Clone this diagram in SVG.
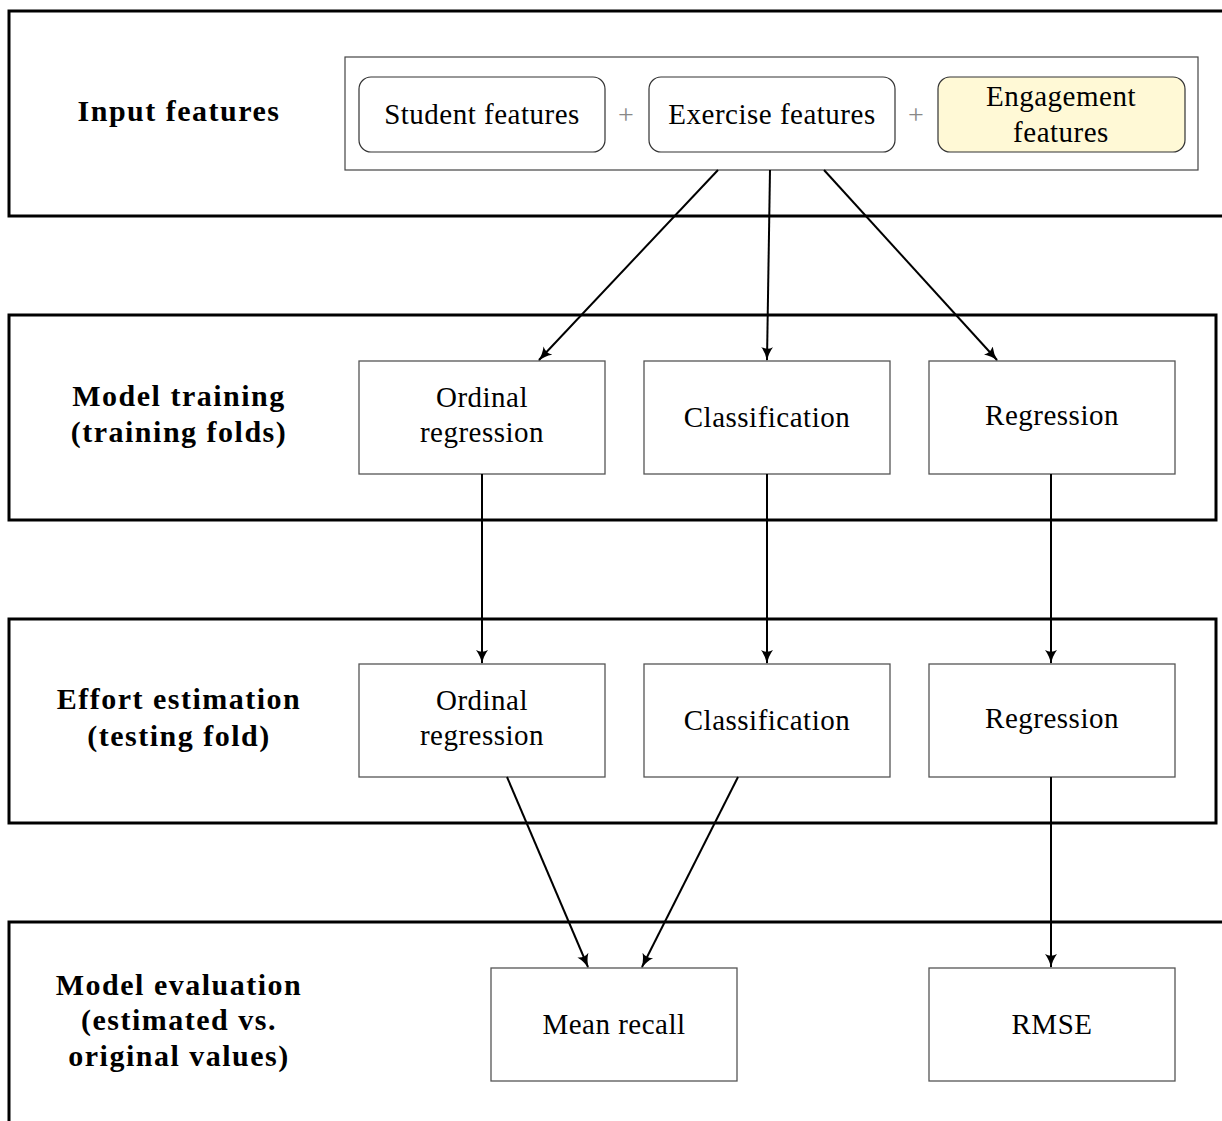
<svg xmlns="http://www.w3.org/2000/svg" width="1222" height="1121" viewBox="0 0 1222 1121">
<defs>
<style>
.stage{fill:none;stroke:#000;stroke-width:3}
.node{fill:#fff;stroke:#555;stroke-width:1.3}
.feat{fill:#fff;stroke:#333;stroke-width:1.2}
.eng{fill:#FFF9D6;stroke:#333;stroke-width:1.2}
.cont{fill:#fff;stroke:#444;stroke-width:1.2}
.t{font-size:29px;letter-spacing:0.5px;fill:#000;text-anchor:middle}
.b{font-size:30px;letter-spacing:1.5px;font-weight:bold;fill:#000;text-anchor:middle}
.plus{font-size:28px;fill:#888;text-anchor:middle}
.e{fill:none;stroke:#000;stroke-width:2;marker-end:url(#ah)}
</style>
<marker id="ah" viewBox="0 0 14 12" refX="13" refY="6" markerWidth="14" markerHeight="12" markerUnits="userSpaceOnUse" orient="auto">
<path d="M0,0 Q6,4.5 14,6 Q6,7.5 0,12 Q3.5,6 0,0 Z" fill="#000"/>
</marker>
</defs>
<g font-family="Liberation Serif, serif">
<g id="stage-input">
<rect class="stage" x="9" y="11" width="1230" height="205"/>
<text class="b" x="179" y="121">Input features</text>
</g>
<g id="stage-training">
<rect class="stage" x="9" y="315" width="1207" height="205"/>
<text class="b" x="179" y="406">Model training</text>
<text class="b" x="179" y="442">(training folds)</text>
</g>
<g id="stage-estimation">
<rect class="stage" x="9" y="619" width="1207" height="204"/>
<text class="b" x="179" y="709">Effort estimation</text>
<text class="b" x="179" y="746">(testing fold)</text>
</g>
<g id="stage-evaluation">
<rect class="stage" x="9" y="922" width="1230" height="220"/>
<text class="b" x="179" y="995">Model evaluation</text>
<text class="b" x="179" y="1030">(estimated vs.</text>
<text class="b" x="179" y="1066">original values)</text>
</g>
<g id="features">
<rect class="cont" x="345" y="57" width="853" height="113"/>
<g id="student-features">
<rect class="feat" x="359" y="77" width="246" height="75" rx="12"/>
<text class="t" x="482" y="124">Student features</text>
</g>
<text class="plus" x="626" y="124">+</text>
<g id="exercise-features">
<rect class="feat" x="649" y="77" width="246" height="75" rx="12"/>
<text class="t" x="772" y="124">Exercise features</text>
</g>
<text class="plus" x="916" y="124">+</text>
<g id="engagement-features">
<rect class="eng" x="938" y="77" width="247" height="75" rx="12"/>
<text class="t" x="1061" y="106">Engagement</text>
<text class="t" x="1061" y="142">features</text>
</g>
</g>
<g id="train-ordinal">
<rect class="node" x="359" y="361" width="246" height="113"/>
<text class="t" x="482" y="407">Ordinal</text>
<text class="t" x="482" y="442">regression</text>
</g>
<g id="train-classification">
<rect class="node" x="644" y="361" width="246" height="113"/>
<text class="t" x="767" y="427">Classification</text>
</g>
<g id="train-regression">
<rect class="node" x="929" y="361" width="246" height="113"/>
<text class="t" x="1052" y="425">Regression</text>
</g>
<g id="est-ordinal">
<rect class="node" x="359" y="664" width="246" height="113"/>
<text class="t" x="482" y="710">Ordinal</text>
<text class="t" x="482" y="745">regression</text>
</g>
<g id="est-classification">
<rect class="node" x="644" y="664" width="246" height="113"/>
<text class="t" x="767" y="730">Classification</text>
</g>
<g id="est-regression">
<rect class="node" x="929" y="664" width="246" height="113"/>
<text class="t" x="1052" y="728">Regression</text>
</g>
<g id="mean-recall">
<rect class="node" x="491" y="968" width="246" height="113"/>
<text class="t" x="614" y="1034">Mean recall</text>
</g>
<g id="rmse">
<rect class="node" x="929" y="968" width="246" height="113"/>
<text class="t" x="1052" y="1034">RMSE</text>
</g>
</g>
<g id="connectors">
<line class="e" x1="718" y1="170" x2="539" y2="360"/>
<line class="e" x1="770" y1="170" x2="767" y2="360"/>
<line class="e" x1="824" y1="170" x2="997" y2="360"/>
<line class="e" x1="482" y1="474" x2="482" y2="663"/>
<line class="e" x1="767" y1="474" x2="767" y2="663"/>
<line class="e" x1="1051" y1="474" x2="1051" y2="663"/>
<line class="e" x1="507" y1="777" x2="588" y2="967"/>
<line class="e" x1="738" y1="777" x2="642" y2="967"/>
<line class="e" x1="1051" y1="777" x2="1051" y2="967"/>
</g>
</svg>
